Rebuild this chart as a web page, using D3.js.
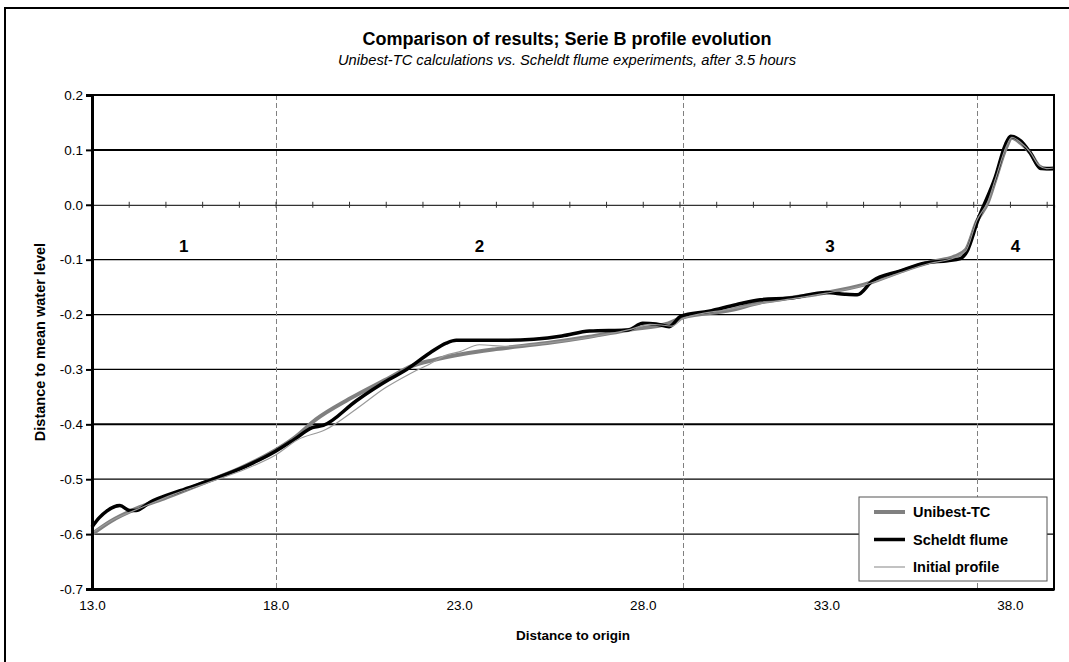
<!DOCTYPE html>
<html>
<head>
<meta charset="utf-8">
<script src="https://cdn.jsdelivr.net/npm/d3@7"></script>
<style>
  html, body { margin: 0; padding: 0; background: #fff; }
  svg { display: block; font-family: "Liberation Sans", Arial, sans-serif; }
</style>
</head>
<body>
<svg id="chart" width="1069" height="662"></svg>
<script>
// Profile data (distance to origin vs. distance to mean water level)
const unibestX = [13.0, 13.5, 14.3, 15.0, 16.3, 17.0, 17.9, 18.5, 19.1, 20.0, 21.1, 21.7, 22.3, 23.1, 24.0, 25.4, 26.5, 27.6, 28.7, 29.1, 30.4, 31.2, 32.0, 33.0, 34.0, 35.0, 35.8, 36.5, 36.8, 37.1, 37.4, 37.6, 37.9, 38.05, 38.3, 38.55, 38.8, 39.0, 39.2];
const unibestY = [-0.600, -0.577, -0.551, -0.534, -0.500, -0.481, -0.451, -0.425, -0.391, -0.354, -0.315, -0.294, -0.283, -0.272, -0.263, -0.252, -0.241, -0.228, -0.216, -0.205, -0.192, -0.178, -0.170, -0.160, -0.146, -0.122, -0.105, -0.094, -0.082, -0.030, 0.005, 0.045, 0.105, 0.122, 0.112, 0.095, 0.070, 0.065, 0.066];

const scheldtX = [13.0, 13.2, 13.4, 13.76, 14.03, 14.2, 14.58, 15.4, 16.3, 17.2, 18.0, 18.5, 19.0, 19.3, 20.2, 21.1, 21.5, 22.2, 22.65, 22.92, 24.3, 25.8, 26.55, 27.6, 28.0, 28.36, 28.72, 29.04, 29.8, 30.54, 31.2, 32.0, 33.0, 33.5, 33.84, 34.25, 35.0, 35.7, 36.3, 36.65, 36.83, 37.13, 37.6, 37.88, 38.02, 38.3, 38.55, 38.84, 39.2];
const scheldtY = [-0.587, -0.570, -0.558, -0.548, -0.557, -0.557, -0.542, -0.521, -0.500, -0.476, -0.449, -0.428, -0.406, -0.402, -0.357, -0.318, -0.303, -0.270, -0.252, -0.247, -0.247, -0.239, -0.230, -0.228, -0.216, -0.217, -0.222, -0.203, -0.194, -0.182, -0.173, -0.170, -0.160, -0.163, -0.164, -0.139, -0.121, -0.106, -0.102, -0.098, -0.085, -0.027, 0.050, 0.110, 0.125, 0.116, 0.095, 0.066, 0.066];

const initialX = [13.0, 13.6, 14.3, 15.2, 16.3, 17.2, 18.0, 18.6, 19.38, 20.2, 21.0, 21.6, 22.2, 22.65, 23.0, 23.55, 24.3, 25.4, 26.5, 27.6, 28.2, 28.5, 28.8, 29.1, 30.4, 31.2, 32.0, 33.0, 34.0, 35.0, 35.8, 36.5, 36.8, 37.1, 37.4, 37.6, 37.9, 38.05, 38.3, 38.55, 38.8, 39.0, 39.2];
const initialY = [-0.598, -0.573, -0.553, -0.528, -0.503, -0.481, -0.456, -0.428, -0.409, -0.372, -0.333, -0.310, -0.290, -0.274, -0.268, -0.255, -0.258, -0.252, -0.242, -0.228, -0.218, -0.219, -0.221, -0.207, -0.190, -0.180, -0.172, -0.161, -0.147, -0.124, -0.107, -0.096, -0.084, -0.028, 0.006, 0.046, 0.106, 0.123, 0.113, 0.096, 0.071, 0.066, 0.067];

const yTicks = [0.2, 0.1, 0.0, -0.1, -0.2, -0.3, -0.4, -0.5, -0.6, -0.7];
const heavyGrid = [0.1, -0.4];
const xLabelTicks = [13, 18, 23, 28, 33, 38];
const xMinorTicks = d3.range(13, 40, 1);
const zoneBounds = [18.0, 29.1, 37.1];
const zoneNames = ["1", "2", "3", "4"];
const zoneX = [15.5, 23.55, 33.1, 38.15];
const zoneLabelY = -0.075;

const seriesNames = ["Unibest-TC", "Scheldt flume", "Initial profile"];

const svg = d3.select("#chart");
const margin = { left: 92, right: 1054, top: 95, bottom: 589 };

const x = d3.scaleLinear().domain([13, 39.2]).range([margin.left, margin.right]);
const y = d3.scaleLinear().domain([-0.7, 0.2]).range([margin.bottom, margin.top]);

// outer chart frame
svg.append("rect")
    .attr("x", 5).attr("y", 8)
    .attr("width", 1080).attr("height", 680)
    .attr("fill", "#fff").attr("stroke", "#000").attr("stroke-width", 2);

// titles
svg.append("text")
    .attr("x", 567).attr("y", 45)
    .attr("text-anchor", "middle")
    .style("font-size", "18px").style("font-weight", "bold")
    .text("Comparison of results; Serie B profile evolution");
svg.append("text")
    .attr("x", 567).attr("y", 65)
    .attr("text-anchor", "middle")
    .style("font-size", "14.7px").style("font-style", "italic")
    .text("Unibest-TC calculations vs. Scheldt flume experiments, after 3.5 hours");

// horizontal gridlines
svg.append("g")
    .selectAll("line")
    .data(yTicks.filter(d => d !== 0 && d !== -0.7))
    .enter().append("line")
    .attr("x1", margin.left).attr("x2", margin.right)
    .attr("y1", d => y(d)).attr("y2", d => y(d))
    .attr("stroke", "#000")
    .attr("stroke-width", d => heavyGrid.includes(d) ? 2 : 1.3);

// zone separators
svg.append("g")
    .selectAll("line")
    .data(zoneBounds)
    .enter().append("line")
    .attr("x1", d => Math.round(x(d)) + 0.5).attr("x2", d => Math.round(x(d)) + 0.5)
    .attr("y1", margin.top).attr("y2", margin.bottom)
    .attr("stroke", "#808080").attr("stroke-width", 1)
    .attr("stroke-dasharray", "5,3");

// x axis through zero with a tick at each metre
const zeroAxis = svg.append("g")
    .attr("transform", `translate(0,${y(0)})`)
    .call(d3.axisBottom(x).tickValues(xMinorTicks).tickSize(3).tickFormat(""));
zeroAxis.select(".domain").attr("stroke", "#333").attr("stroke-width", 1.2);
zeroAxis.selectAll(".tick line").attr("y1", -3).attr("stroke", "#333");

// zone labels
svg.append("g")
    .selectAll("text")
    .data(zoneNames)
    .enter().append("text")
    .attr("x", (d, i) => x(zoneX[i]))
    .attr("y", y(zoneLabelY) + 6)
    .attr("text-anchor", "middle")
    .style("font-size", "17px").style("font-weight", "bold")
    .text(d => d);

// profile lines
const line = (xs, ys) => d3.line()
    .x(i => x(xs[i]))
    .y(i => y(ys[i]))
    .curve(d3.curveMonotoneX)(d3.range(xs.length));

svg.append("path")
    .attr("d", line(unibestX, unibestY))
    .attr("fill", "none").attr("stroke", "#808080").attr("stroke-width", 4);
svg.append("path")
    .attr("d", line(scheldtX, scheldtY))
    .attr("fill", "none").attr("stroke", "#000").attr("stroke-width", 3.5);
svg.append("path")
    .attr("d", line(initialX, initialY))
    .attr("fill", "none").attr("stroke", "#999").attr("stroke-width", 1.2);

// plot area border
svg.append("rect")
    .attr("x", margin.left).attr("y", margin.top)
    .attr("width", margin.right - margin.left).attr("height", margin.bottom - margin.top)
    .attr("fill", "none").attr("stroke", "#000").attr("stroke-width", 2);

// y axis
const yAxis = svg.append("g")
    .attr("transform", `translate(${margin.left},0)`)
    .call(d3.axisLeft(y).tickValues(yTicks).tickSize(6).tickPadding(3)
        .tickFormat(d => d.toFixed(1)));
yAxis.select(".domain").attr("stroke", "#000").attr("stroke-width", 3);
yAxis.selectAll(".tick line").attr("stroke", "#000").attr("stroke-width", 2);
yAxis.selectAll(".tick text")
    .style("font-family", "'Liberation Sans', Arial, sans-serif")
    .style("font-size", "13.5px").attr("fill", "#000");

// bottom axis labels
const xAxis = svg.append("g")
    .attr("transform", `translate(0,${margin.bottom})`)
    .call(d3.axisBottom(x).tickValues(xLabelTicks).tickSize(0).tickPadding(11)
        .tickFormat(d => d.toFixed(1)));
xAxis.select(".domain").attr("stroke", "#000").attr("stroke-width", 3);
xAxis.selectAll(".tick text")
    .style("font-family", "'Liberation Sans', Arial, sans-serif")
    .style("font-size", "13.5px").attr("fill", "#000");

// axis titles
svg.append("text")
    .attr("x", (margin.left + margin.right) / 2).attr("y", 640)
    .attr("text-anchor", "middle")
    .style("font-size", "13.5px").style("font-weight", "bold")
    .text("Distance to origin");
svg.append("text")
    .attr("transform", `translate(45,${(margin.top + margin.bottom) / 2}) rotate(-90)`)
    .attr("text-anchor", "middle")
    .style("font-size", "14.5px").style("font-weight", "bold")
    .text("Distance to mean water level");

// legend
const legendStyles = [
    { stroke: "#808080", width: 4 },
    { stroke: "#000", width: 3.5 },
    { stroke: "#999", width: 1.2 }
];
const legend = svg.append("g").attr("transform", "translate(859,497)");
legend.append("rect")
    .attr("width", 188).attr("height", 84)
    .attr("fill", "#fff").attr("stroke", "#555").attr("stroke-width", 1);
const items = legend.selectAll("g.item")
    .data(seriesNames)
    .enter().append("g")
    .attr("class", "item")
    .attr("transform", (d, i) => `translate(0,${15 + i * 27.5})`);
items.append("line")
    .attr("x1", 15).attr("x2", 46)
    .attr("stroke", (d, i) => legendStyles[i].stroke)
    .attr("stroke-width", (d, i) => legendStyles[i].width);
items.append("text")
    .attr("x", 54).attr("y", 5)
    .style("font-size", "14.5px").style("font-weight", "bold")
    .text(d => d);
</script>
</body>
</html>
